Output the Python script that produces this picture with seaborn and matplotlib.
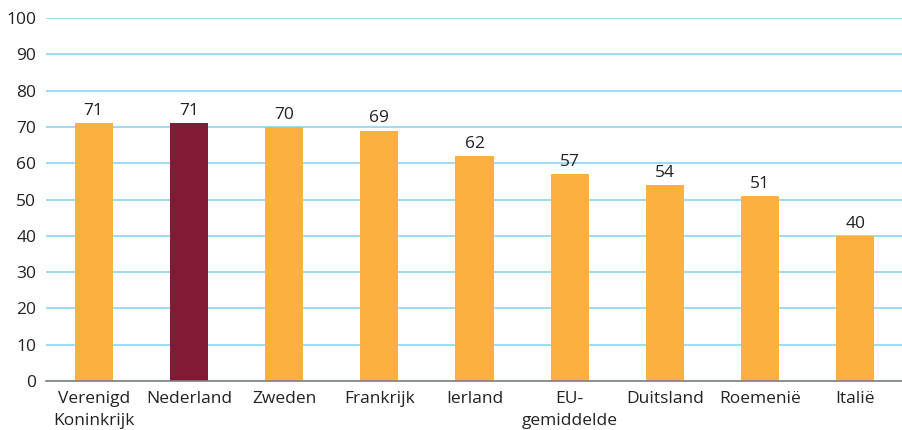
import matplotlib
matplotlib.use("Agg")
import matplotlib.pyplot as plt
import seaborn as sns
import pandas as pd

categories = ["Verenigd\nKoninkrijk", "Nederland", "Zweden", "Frankrijk", "Ierland",
              "EU-\ngemiddelde", "Duitsland", "Roemenië", "Italië"]
values = [71, 71, 70, 69, 62, 57, 54, 51, 40]
highlight = "Nederland"

sns.set_theme(style="white")
plt.rcParams['font.family'] = ['Open Sans', 'DejaVu Sans']

df = pd.DataFrame({"cat": categories, "val": values})
orange = "#FBB040"
dark = "#821A36"
palette = {c: (dark if c == highlight else orange) for c in categories}

fig = plt.figure(figsize=(9.03, 4.30), dpi=100)
ax = fig.add_axes([0.051, 0.114, 0.949, 0.844])
sns.barplot(data=df, x="cat", y="val", hue="cat", palette=palette, legend=False,
            width=0.4, ax=ax, saturation=1, linewidth=0, edgecolor="none")
ax.set_ylim(0, 100)
ax.set_xlim(-0.5, len(categories) - 0.5)
ax.set_yticks(range(0, 101, 10))
ax.yaxis.grid(True, color="#7DD3F0", linewidth=1.1)
ax.set_axisbelow(True)
for s in ["top", "right", "left"]:
    ax.spines[s].set_visible(False)
ax.spines["bottom"].set_color("#808080")
ax.spines["bottom"].set_linewidth(1.2)
ax.set_xlabel("")
ax.set_ylabel("")
ax.tick_params(axis="both", labelsize=12.5, colors="#222222", length=0)
ax.tick_params(axis="x", pad=7)
ax.tick_params(axis="y", pad=7)
ax.set_xticks(range(len(categories)))
ax.set_xticklabels(categories, linespacing=1.55)
for c in ax.containers:
    ax.bar_label(c, labels=[f"{v:g}" for v in c.datavalues], padding=3,
                 fontsize=12.5, color="#222222")
fig.savefig("out.png", dpi=100)
